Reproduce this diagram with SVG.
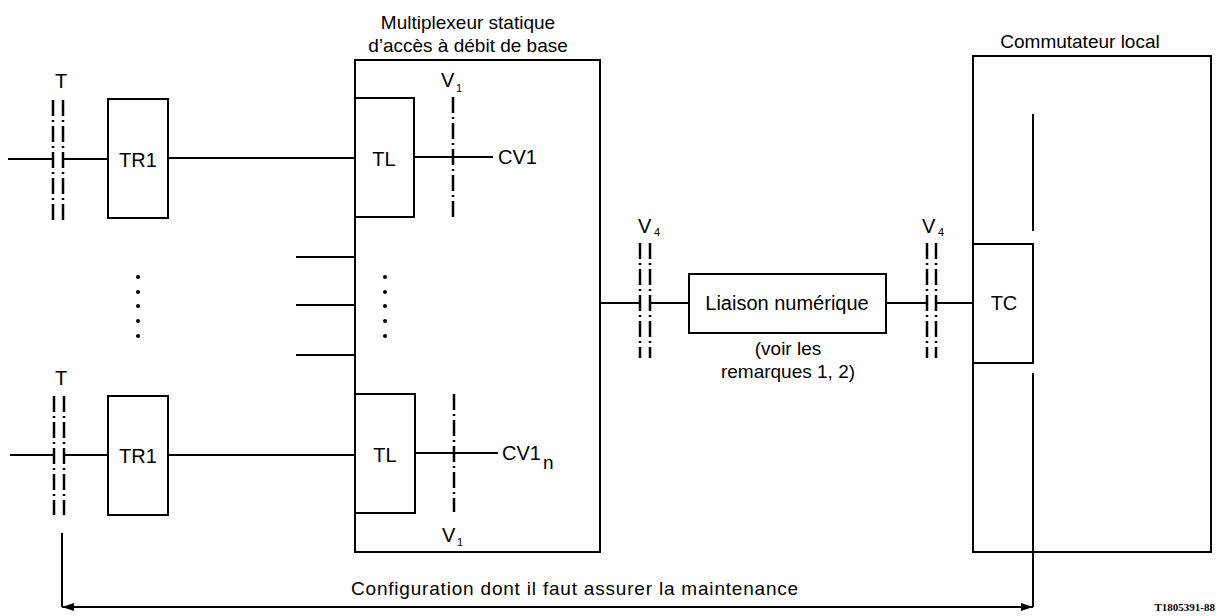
<svg xmlns="http://www.w3.org/2000/svg" width="1223" height="616" viewBox="0 0 1223 616">
<defs>
<style>
.box{fill:none;stroke:#000;stroke-width:2}
.ln{fill:none;stroke:#000;stroke-width:2}
.dd{fill:none;stroke:#000;stroke-width:2.5;stroke-dasharray:16 4 2 4}
.t{font-family:"Liberation Sans",Arial,sans-serif;font-size:20px;fill:#000}
.tt{font-family:"Liberation Sans",Arial,sans-serif;font-size:19px;fill:#000}
.sub{font-family:"Liberation Sans",Arial,sans-serif;font-size:11px;fill:#000}
.dot{fill:#000}
</style>
<marker id="ah" viewBox="0 0 12 8" refX="12" refY="4" markerWidth="12" markerHeight="8" markerUnits="userSpaceOnUse" orient="auto-start-reverse">
<path d="M0,0 L12,4 L0,8 z" fill="#000"/>
</marker>
</defs>

<g id="titles">
<text class="tt" x="468" y="29" text-anchor="middle">Multiplexeur statique</text>
<text class="tt" x="468" y="52" text-anchor="middle">d’accès à débit de base</text>
<text class="tt" x="1080" y="48" text-anchor="middle">Commutateur local</text>
</g>

<g id="mux">
<rect class="box" x="355" y="60" width="245" height="492"/>
</g>
<g id="commutateur">
<rect class="box" x="973" y="56" width="238" height="496"/>
</g>

<g id="tr1-top">
<rect class="box" x="108" y="99" width="60" height="119"/>
<text class="t" x="138" y="167" text-anchor="middle">TR1</text>
</g>
<g id="tr1-bottom">
<rect class="box" x="108" y="396" width="60" height="119"/>
<text class="t" x="138" y="463" text-anchor="middle">TR1</text>
</g>
<g id="tl-top">
<rect class="box" x="355" y="98" width="59" height="119"/>
<text class="t" x="384" y="166" text-anchor="middle">TL</text>
</g>
<g id="tl-bottom">
<rect class="box" x="355" y="394" width="60" height="119"/>
<text class="t" x="385" y="462" text-anchor="middle">TL</text>
</g>
<g id="liaison">
<rect class="box" x="689" y="274" width="197" height="59"/>
<text class="t" x="787" y="310" text-anchor="middle">Liaison numérique</text>
</g>
<g id="tc">
<rect class="box" x="973" y="244" width="60" height="119"/>
<text class="t" x="1004" y="310" text-anchor="middle">TC</text>
</g>

<g id="interfaces">
<text class="t" x="61" y="88" text-anchor="middle">T</text>
<line class="dd" x1="53" y1="100" x2="53" y2="220"/>
<line class="dd" x1="63" y1="100" x2="63" y2="220"/>
<text class="t" x="61" y="385" text-anchor="middle">T</text>
<line class="dd" x1="54" y1="396" x2="54" y2="515"/>
<line class="dd" x1="64" y1="396" x2="64" y2="515"/>
<text class="t" x="441" y="87">V</text><text class="sub" x="456" y="92">1</text>
<line class="dd" x1="453" y1="97" x2="453" y2="219"/>
<text class="t" x="442" y="542">V</text><text class="sub" x="457" y="546">1</text>
<line class="dd" x1="454" y1="394" x2="454" y2="512"/>
<text class="t" x="638" y="233">V</text><text class="sub" x="654" y="236">4</text>
<line class="dd" x1="640" y1="243" x2="640" y2="358"/>
<line class="dd" x1="650" y1="243" x2="650" y2="358"/>
<text class="t" x="922" y="233">V</text><text class="sub" x="938" y="236">4</text>
<line class="dd" x1="927" y1="243" x2="927" y2="358"/>
<line class="dd" x1="936" y1="243" x2="936" y2="358"/>
</g>

<g id="connectors">
<line class="ln" x1="8" y1="159" x2="53" y2="159"/>
<line class="ln" x1="63" y1="159" x2="108" y2="159"/>
<line class="ln" x1="168" y1="158" x2="355" y2="158"/>
<line class="ln" x1="414" y1="157" x2="493" y2="157"/>
<line class="ln" x1="10" y1="455" x2="54" y2="455"/>
<line class="ln" x1="64" y1="455" x2="108" y2="455"/>
<line class="ln" x1="168" y1="455" x2="355" y2="455"/>
<line class="ln" x1="415" y1="453" x2="498" y2="453"/>
<line class="ln" x1="296" y1="257" x2="355" y2="257"/>
<line class="ln" x1="296" y1="305" x2="355" y2="305"/>
<line class="ln" x1="296" y1="355" x2="355" y2="355"/>
<line class="ln" x1="600" y1="303" x2="640" y2="303"/>
<line class="ln" x1="650" y1="303" x2="689" y2="303"/>
<line class="ln" x1="886" y1="303" x2="927" y2="303"/>
<line class="ln" x1="936" y1="303" x2="973" y2="303"/>
<line class="ln" x1="1033" y1="114" x2="1033" y2="231"/>
<line class="ln" x1="1033" y1="373" x2="1033" y2="607"/>
<line class="ln" x1="62" y1="533" x2="62" y2="607"/>
<line class="ln" x1="62" y1="607" x2="1033" y2="607" marker-start="url(#ah)" marker-end="url(#ah)"/>
</g>

<g id="dots">
<circle class="dot" cx="138" cy="277" r="2"/><circle class="dot" cx="138" cy="292" r="2"/><circle class="dot" cx="138" cy="306" r="2"/><circle class="dot" cx="138" cy="321" r="2"/><circle class="dot" cx="138" cy="336" r="2"/>
<circle class="dot" cx="385" cy="277" r="2"/><circle class="dot" cx="385" cy="292" r="2"/><circle class="dot" cx="385" cy="306" r="2"/><circle class="dot" cx="385" cy="321" r="2"/><circle class="dot" cx="385" cy="336" r="2"/>
</g>

<g id="labels">
<text class="t" x="498" y="164">CV1</text>
<text class="t" x="502" y="460">CV1</text><text class="t" x="543" y="469" style="font-size:19px">n</text>
<text class="tt" x="788" y="355" text-anchor="middle">(voir les</text>
<text class="tt" x="788" y="378" text-anchor="middle">remarques 1, 2)</text>
<text class="tt" x="575" y="595" text-anchor="middle" style="letter-spacing:0.8px">Configuration dont il faut assurer la maintenance</text>
<text x="1215" y="611" text-anchor="end" style="font-family:'Liberation Serif',serif;font-size:11px;font-weight:bold">T1805391-88</text>
</g>
</svg>
